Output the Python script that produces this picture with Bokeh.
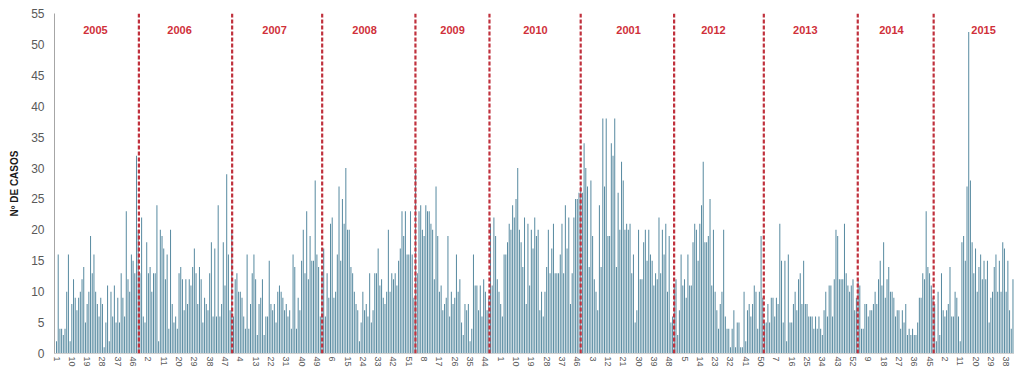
from bokeh.plotting import figure
from bokeh.models import Span, Label, FixedTicker, Range1d, ColumnDataSource
from bokeh.embed import file_html
from bokeh.resources import INLINE

# Weekly number of cases per year
cases_2005 = [2,16,4,4,3,4,10,16,2,8,12,9,7,9,10,12,14,5,8,10,19,13,16,10,8,6,9,8,1,5,11,2,10,6,11,5,9,5,13,9,6,23,12,10,16,15,13,32,20,13,22,6,5]
cases_2006 = [18,13,14,10,13,13,24,2,20,19,17,12,16,4,20,8,5,6,4,13,14,12,7,12,8,12,11,14,17,13,8,14,12,5,9,8,7,13,18,6,17,6,24,6,8,18,11,29,16,7,20,6]
cases_2007 = [12,13,10,10,9,6,4,16,4,8,13,16,12,3,8,9,12,3,6,6,15,8,7,8,5,10,11,10,9,7,8,6,7,4,16,14,4,9,7,15,20,13,23,12,19,15,15,28,16,14,6,13]
cases_2008 = [17,6,13,9,21,22,9,10,16,27,15,25,21,30,20,20,14,13,10,8,7,2,5,10,7,8,6,13,5,7,13,13,17,11,12,9,8,10,20,10,13,12,13,11,15,17,23,19,23,16,16,23]
cases_2009 = [16,9,30,13,23,24,20,19,24,23,23,21,20,12,27,19,10,11,7,8,9,19,6,10,8,9,16,10,12,5,3,8,7,8,2,4,16,11,11,7,11,6,12,10,7,9,21,11,22,19,12,10]
cases_2010 = [8,6,16,16,18,21,20,24,22,25,30,20,18,14,22,8,21,11,20,17,22,19,20,7,10,6,10,14,20,13,17,21,13,13,13,16,21,13,24,17,22,8,13,22,25,25,26,27,26,34,30,27]
cases_2011 = [14,28,19,12,10,7,24,14,38,27,38,19,19,34,32,38,14,26,20,31,28,20,21,20,21,13,16,5,7,20,12,12,18,20,15,20,16,15,11,13,12,22,13,20,16,21,10,19,5,6,11,12]
cases_2012 = [3,7,16,11,12,9,16,11,11,18,21,20,15,21,24,31,18,18,19,25,11,20,10,7,4,8,10,20,6,4,4,1,4,7,1,5,5,1,1,10,2,7,8,6,8,11,10,4,10,19,9,5]
cases_2013 = [5,8,5,9,9,6,9,8,21,15,5,15,2,16,5,5,8,10,7,12,13,8,15,8,8,6,6,6,4,6,4,6,4,3,7,10,6,11,11,6,12,20,19,12,12,12,21,13,11,10,11,12]
cases_2014 = [7,9,12,11,4,4,8,8,6,7,7,8,10,8,12,15,11,18,9,12,14,10,10,9,6,7,7,4,7,5,8,3,4,3,4,3,3,5,9,9,13,12,23,14,13,11,9,8,2,10,3,13]
cases_2015 = [7,6,7,8,14,6,6,10,9,6,2,18,19,15,27,52,28,18,13,17,10,14,16,12,15,12,15,5,9,10,14,16,10,15,10,18,17,10,15,7,4,12,8]

year_labels = ["2005", "2006", "2007", "2008", "2009", "2010", "2001", "2012", "2013", "2014", "2015"]
y_ticks = [0, 5, 10, 15, 20, 25, 30, 35, 40, 45, 50, 55]

# annotation placement (in week-index units), as drawn in the reference
separator_pos = [48.4, 103.2, 156.1, 210.9, 254.4, 308.0, 362.9, 415.6, 470.8, 515.4]
year_label_pos = [22.9, 72.3, 128.1, 181.0, 232.7, 281.4, 336.1, 386.0, 440.0, 490.6, 544.7]

series = [cases_2005, cases_2006, cases_2007, cases_2008, cases_2009, cases_2010,
          cases_2011, cases_2012, cases_2013, cases_2014, cases_2015]

values, weeks = [], []
for s in series:
    values += s
    weeks += list(range(1, len(s) + 1))
idx = list(range(len(values)))

tick_idx = idx[::9]
overrides = {i: str(weeks[i]) for i in tick_idx}

FONT = "Liberation Sans"

p = figure(width=1014, height=373, output_backend="svg", toolbar_location=None,
           x_range=Range1d(-1.18, 562.9), y_range=Range1d(0, 55),
           min_border_left=54, min_border_right=0, min_border_top=13, min_border_bottom=20)
p.outline_line_color = None
p.grid.visible = False
p.background_fill_color = "white"

src = ColumnDataSource(dict(x=idx, top=values))
p.vbar(x="x", top="top", width=0.6, source=src, fill_color="#5a8ca2", line_color=None)

for pos in separator_pos:
    p.add_layout(Span(location=pos, dimension="height", line_color="#c0313d",
                      line_width=2.2, line_dash="4 2"))

for pos, name in zip(year_label_pos, year_labels):
    p.add_layout(Label(x=pos, y=52.4, text=name, text_align="center", text_baseline="middle",
                       text_font=FONT, text_font_style="bold", text_font_size="11px",
                       text_color="#d0303a"))

ya = p.yaxis[0]
ya.ticker = FixedTicker(ticks=y_ticks)
ya.major_label_text_font = FONT
ya.major_label_text_font_size = "12px"
ya.major_label_text_color = "#595959"
ya.major_tick_line_color = None
ya.major_tick_out = 0
ya.major_tick_in = 0
ya.minor_tick_line_color = None
ya.axis_line_color = "#a6a6a6"
ya.major_label_standoff = 10
ya.axis_label = "Nº DE CASOS"
ya.axis_label_text_font = FONT
ya.axis_label_text_font_style = "bold"
ya.axis_label_text_font_size = "10px"
ya.axis_label_text_color = "#1a1a1a"
ya.axis_label_standoff = 8

xa = p.xaxis[0]
xa.ticker = FixedTicker(ticks=tick_idx)
xa.major_label_overrides = overrides
xa.major_label_orientation = "vertical"
xa.major_label_text_font = FONT
xa.major_label_text_font_size = "9px"
xa.major_label_text_color = "#595959"
xa.major_tick_line_color = None
xa.major_tick_out = 0
xa.major_tick_in = 0
xa.minor_tick_line_color = None
xa.axis_line_color = "#d0d0d0"
xa.major_label_standoff = 3
xa.axis_label_standoff = 0

open("out.html", "w").write(file_html(p, INLINE))
